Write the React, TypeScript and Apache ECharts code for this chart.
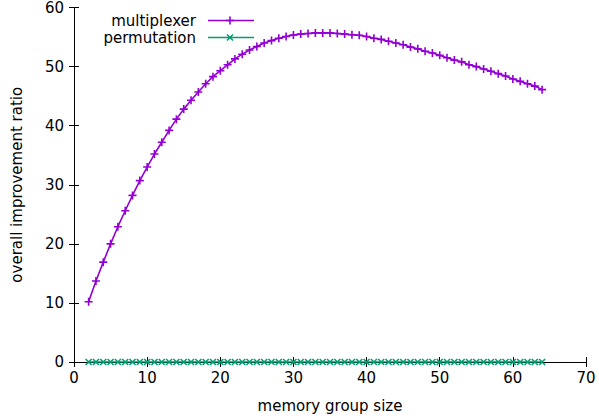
import React, { useEffect, useRef } from "react";
import * as echarts from "echarts";

const groupSizes = [
  2, 3, 4, 5, 6, 7, 8, 9, 10, 11, 12, 13, 14, 15, 16, 17, 18, 19, 20, 21, 22, 23, 24, 25, 26, 27, 28, 29, 30, 31, 32, 33,
  34, 35, 36, 37, 38, 39, 40, 41, 42, 43, 44, 45, 46, 47, 48, 49, 50, 51, 52, 53, 54, 55, 56, 57, 58, 59, 60, 61, 62, 63, 64,
];
const multiplexer = [
  10.2, 13.7, 16.9, 20.0, 22.9, 25.6, 28.2, 30.7, 33.0, 35.2, 37.2, 39.2, 41.1, 42.8, 44.3, 45.7, 47.1, 48.3, 49.3, 50.3,
  51.3, 52.1, 52.8, 53.4, 54.0, 54.4, 54.8, 55.1, 55.35, 55.5, 55.6, 55.7, 55.7, 55.7, 55.6, 55.5, 55.4, 55.3, 55.1, 54.8,
  54.6, 54.3, 54.0, 53.7, 53.3, 53.0, 52.6, 52.3, 51.9, 51.5, 51.1, 50.8, 50.3, 50.0, 49.6, 49.2, 48.8, 48.4, 47.9, 47.5,
  47.1, 46.7, 46.1,
];
const permutation = [
  0, 0, 0, 0, 0, 0, 0, 0, 0, 0, 0, 0, 0, 0, 0, 0, 0, 0, 0, 0, 0, 0, 0, 0, 0, 0, 0, 0, 0, 0, 0, 0, 0, 0, 0, 0, 0, 0, 0, 0,
  0, 0, 0, 0, 0, 0, 0, 0, 0, 0, 0, 0, 0, 0, 0, 0, 0, 0, 0, 0, 0, 0, 0,
];
const seriesNames = ["multiplexer", "permutation"];
const xTitle = "memory group size";
const yTitle = "overall improvement ratio";

const PURPLE = "#9400d3";
const GREEN = "#009e73";
const FONT = "DejaVu Sans, Verdana, sans-serif";
const PLUS = "path://M0,-1L0,1M-1,0L1,0";
const CROSS = "path://M-1,-1L1,1M-1,1L1,-1";

export default function App() {
  const ref = useRef<HTMLDivElement>(null);
  useEffect(() => {
    if (!ref.current) return;
    const chart = echarts.init(ref.current, null, { renderer: "svg" });
    const axisCommon = {
      type: "value" as const,
      axisLine: { show: true, lineStyle: { color: "#000", width: 1 } },
      axisTick: { show: true, inside: true, length: 5, lineStyle: { color: "#000" } },
      splitLine: { show: false },
    };
    chart.setOption({
      animation: false,
      backgroundColor: "#fff",
      grid: { left: 74, right: 13, top: 6, bottom: 57, containLabel: false },
      xAxis: [
        {
          ...axisCommon,
          min: 0,
          max: 70,
          interval: 10,
          position: "bottom",
          axisLabel: { color: "#000", fontSize: 15, fontFamily: FONT, margin: 8 },
          name: xTitle,
          nameLocation: "middle",
          nameGap: 36,
          nameTextStyle: { color: "#000", fontSize: 15, fontFamily: FONT },
        },
        {
          ...axisCommon,
          min: 0,
          max: 70,
          interval: 10,
          position: "top",
          axisLabel: { show: false },
        },
      ],
      yAxis: [
        {
          ...axisCommon,
          min: 0,
          max: 60,
          interval: 10,
          position: "left",
          axisLabel: { color: "#000", fontSize: 15, fontFamily: FONT, margin: 10 },
          name: yTitle,
          nameLocation: "middle",
          nameGap: 50,
          nameRotate: 90,
          nameTextStyle: { color: "#000", fontSize: 15, fontFamily: FONT },
        },
        {
          ...axisCommon,
          min: 0,
          max: 60,
          interval: 10,
          position: "right",
          axisLabel: { show: false },
        },
      ],
      series: [
        {
          name: seriesNames[0],
          type: "line",
          data: groupSizes.map((x, i) => [x, multiplexer[i]]),
          symbol: PLUS,
          symbolSize: 8,
          showAllSymbol: true,
          lineStyle: { color: PURPLE, width: 1.6 },
          itemStyle: { color: "none", borderColor: PURPLE, borderWidth: 1.6 },
          z: 3,
        },
        {
          name: seriesNames[1],
          type: "line",
          data: groupSizes.map((x, i) => [x, permutation[i]]),
          symbol: CROSS,
          symbolSize: 6,
          showAllSymbol: true,
          lineStyle: { color: GREEN, width: 1.6 },
          itemStyle: { color: "none", borderColor: GREEN, borderWidth: 1.6 },
          z: 3,
        },
      ],
      graphic: [
        {
          type: "text",
          x: 196,
          y: 20.5,
          style: {
            text: seriesNames[0],
            fill: "#000",
            font: `15px ${FONT}`,
            align: "right",
            verticalAlign: "middle",
          },
        },
        { type: "line", shape: { x1: 208, y1: 20.5, x2: 254, y2: 20.5 }, style: { stroke: PURPLE, lineWidth: 1.6 } },
        { type: "line", shape: { x1: 230, y1: 16.5, x2: 230, y2: 24.5 }, style: { stroke: PURPLE, lineWidth: 1.6 } },
        { type: "line", shape: { x1: 226, y1: 20.5, x2: 234, y2: 20.5 }, style: { stroke: PURPLE, lineWidth: 1.6 } },
        {
          type: "text",
          x: 196,
          y: 37.5,
          style: {
            text: seriesNames[1],
            fill: "#000",
            font: `15px ${FONT}`,
            align: "right",
            verticalAlign: "middle",
          },
        },
        { type: "line", shape: { x1: 208, y1: 37.5, x2: 254, y2: 37.5 }, style: { stroke: GREEN, lineWidth: 1.6 } },
        { type: "line", shape: { x1: 227, y1: 34.5, x2: 233, y2: 40.5 }, style: { stroke: GREEN, lineWidth: 1.6 } },
        { type: "line", shape: { x1: 227, y1: 40.5, x2: 233, y2: 34.5 }, style: { stroke: GREEN, lineWidth: 1.6 } },
      ],
    });
    return () => chart.dispose();
  }, []);
  return <div ref={ref} style={{ width: 599, height: 419, position: "absolute", left: 0, top: 0 }} />;
}
